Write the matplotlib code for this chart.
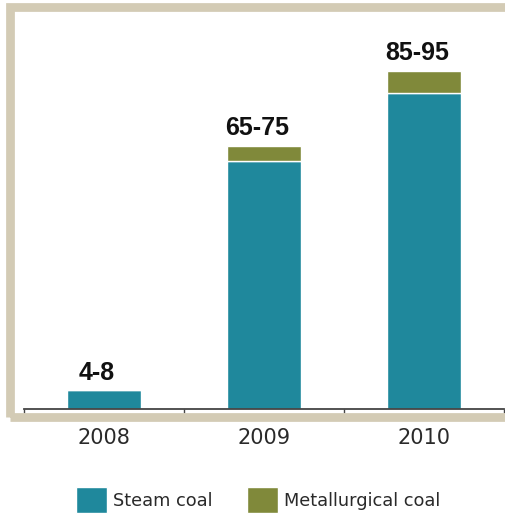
import numpy as np
import matplotlib
matplotlib.use('Agg')
import matplotlib.pyplot as plt
from matplotlib.patches import Rectangle

years = ['2008', '2009', '2010']
steam = [5, 66, 84]
metallurgical = [0, 4, 6]
ranges = ['4-8', '65-75', '85-95']

teal = '#1f889c'
olive = '#80893a'
beige = '#d3cbb5'

W, H = 505, 515
fig = plt.figure(figsize=(W / 100, H / 100), dpi=100)

# beige frame around the plot area (pixel coords converted to figure fraction)
frame = Rectangle((9.5 / W, 1 - 416.5 / H), 498 / W, 409.5 / H,
                  transform=fig.transFigure, fill=False, edgecolor=beige,
                  linewidth=6.3, zorder=0)
fig.patches.append(frame)

ax = fig.add_axes([24 / W, 106 / H, 480 / W, 376 / H])
x = np.arange(len(years))
b1 = ax.bar(x, steam, width=0.46, color=teal, edgecolor='white', linewidth=1.0,
            label='Steam coal')
b2 = ax.bar(x, metallurgical, width=0.46, bottom=steam, color=olive,
            edgecolor='white', linewidth=1.0, label='Metallurgical coal')

totals = np.array(steam) + np.array(metallurgical)
for i, txt in enumerate(ranges):
    ax.annotate(txt, (x[i], totals[i]), xytext=(-5, 4), textcoords='offset points',
                ha='center', va='bottom', fontsize=18, fontweight='bold',
                family='Liberation Sans', color='#111111')

ax.set_xlim(-0.5, 2.5)
ax.set_ylim(0, 100)
ax.set_xticks(x)
ax.set_xticklabels(years, fontsize=15, color='#2a2a2a')
ax.set_xticks([-0.5, 0.5, 1.5, 2.5], minor=True)
ax.tick_params(axis='x', which='major', length=0, pad=14)
ax.tick_params(axis='x', which='minor', length=3, width=1, color='#444444')
ax.set_yticks([])
for s in ['top', 'right', 'left']:
    ax.spines[s].set_visible(False)
ax.spines['bottom'].set_color('#444444')
ax.spines['bottom'].set_linewidth(1.3)

fig.legend(handles=[b1, b2], loc='center left', bbox_to_anchor=(76 / W, 1 - 500 / H),
           ncol=2, frameon=False, fontsize=12.8, handlelength=1.75, handleheight=1.9,
           handletextpad=0.35, columnspacing=1.9, borderpad=0, borderaxespad=0,
           labelcolor='#2a2a2a')

fig.savefig('out.png', dpi=100)
